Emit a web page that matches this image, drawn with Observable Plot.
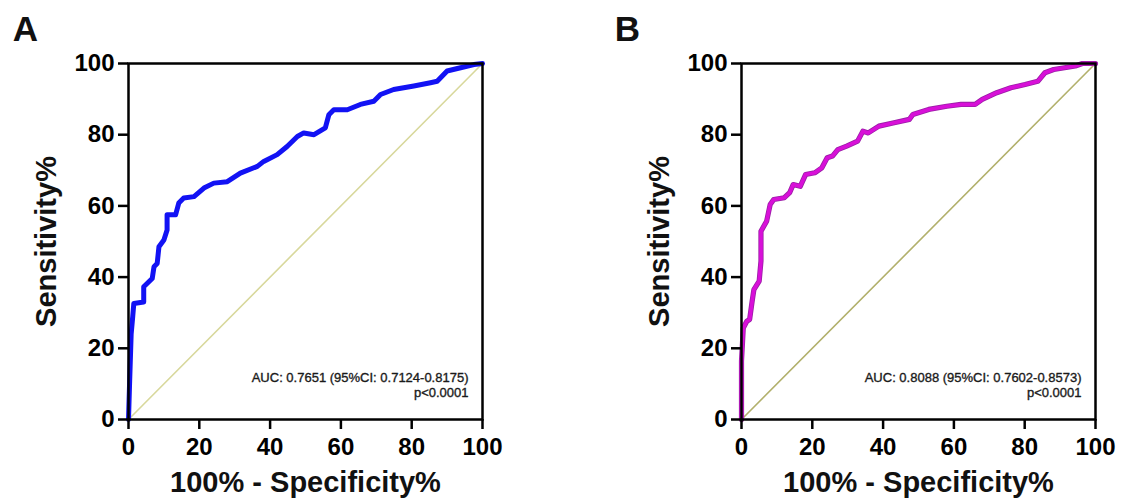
<!DOCTYPE html>
<html>
<head>
<meta charset="utf-8">
<script src="https://cdn.jsdelivr.net/npm/d3@7"></script>
<script src="https://cdn.jsdelivr.net/npm/@observablehq/plot@0.6"></script>
<style>
  html, body { margin: 0; padding: 0; background: #ffffff; }
  #wrap { display: flex; width: 1122px; height: 503px; overflow: hidden; }
  #wrap svg { display: block; }
</style>
</head>
<body>
<div id="wrap"></div>
<script>
// ---- data ----
const ticks = [0, 20, 40, 60, 80, 100];
const diagX = [0, 100];
const diagY = [0, 100];

// Panel A ROC curve: 100% - Specificity% (x) and Sensitivity% (y)
const fprA = [0, 0.3, 0.75, 1.2, 1.5, 4.3, 4.3, 6.7, 7.2, 8.1, 8.6, 10, 10.9, 10.9, 13.3, 14.2, 15.6, 18.5, 21.3, 24.1, 27.9, 31.6, 36.4, 38.2, 42, 44.8, 47.7, 49.5, 52.4, 55.6, 56.6, 58, 61.8, 65.5, 69.3, 71.2, 74.9, 80.6, 85.3, 87.2, 90, 93.8, 97.6, 100];
const tprA = [0, 10, 24, 29, 32.6, 33, 37.3, 39.6, 42.9, 43.8, 48.5, 50.4, 53.2, 57.5, 57.5, 60.8, 62.2, 62.6, 65, 66.4, 66.8, 69.2, 71.1, 72.5, 74.4, 76.7, 79.5, 80.5, 80, 81.9, 85.6, 87, 87, 88.5, 89.4, 91.3, 92.7, 93.7, 94.6, 95, 97.9, 98.8, 99.7, 100];

// Panel B ROC curve
const fprB = [0, 0, 0.5, 1.5, 2.3, 3, 3.5, 5, 5.5, 5.5, 7.1, 8.1, 9.1, 12.1, 13.6, 14.6, 16.6, 18.1, 20.7, 22.7, 24.2, 25.7, 27.2, 29.7, 32.8, 34.3, 35.8, 38.8, 42.8, 47.4, 48.4, 52.9, 58, 62, 66, 68, 72.1, 76.1, 80.1, 83.7, 85.7, 88.2, 94.3, 96.3, 100];
const tprB = [0, 16.4, 25.7, 27.6, 28.1, 33.2, 36.5, 38.9, 44.5, 52.9, 55.7, 60.4, 61.8, 62.3, 63.7, 66, 65.5, 68.8, 69.3, 70.7, 73.5, 74, 75.8, 76.8, 78.2, 81, 80.5, 82.4, 83.3, 84.3, 85.7, 87.1, 88, 88.5, 88.5, 89.9, 91.8, 93.2, 94.1, 95, 97.4, 98.3, 99.3, 100, 100];

const letters = ["A", "B"];
const aucLines = [
  ["AUC: 0.7651 (95%CI: 0.7124-0.8175)", "p<0.0001"],
  ["AUC: 0.8088 (95%CI: 0.7602-0.8573)", "p<0.0001"]
];
const xTitle = "100% - Specificity%";
const yTitle = "Sensitivity%";

const FONT = "'Liberation Sans', Arial, Helvetica, sans-serif";

function panel({fpr, tpr, curveColor, outlineColor, diagColor, letter, lines, ml, mr, letterDx}) {
  const pts = fpr.map((x, i) => ({x, y: tpr[i]}));
  const diag = diagX.map((x, i) => ({x, y: diagY[i]}));
  const marks = [
    Plot.line(diag, {x: "x", y: "y", stroke: diagColor, strokeWidth: 1.6})
  ];
  if (outlineColor) {
    marks.push(Plot.line(pts, {x: "x", y: "y", stroke: outlineColor, strokeWidth: 5.2}));
    marks.push(Plot.line(pts, {x: "x", y: "y", stroke: curveColor, strokeWidth: 3.6}));
  } else {
    marks.push(Plot.line(pts, {x: "x", y: "y", stroke: curveColor, strokeWidth: 5}));
  }
  marks.push(
    Plot.frame({stroke: "#000", strokeWidth: 2.5}),
    Plot.axisX({ticks, tickSize: 10, tickPadding: 8, fontSize: 24, fontWeight: "bold", strokeWidth: 2.5, label: null, tickFormat: d => String(d)}),
    Plot.axisY({ticks, tickSize: 10, tickPadding: 4, fontSize: 24, fontWeight: "bold", strokeWidth: 2.5, label: null, tickFormat: d => String(d)}),
    Plot.text([yTitle], {frameAnchor: "left", rotate: -90, dx: -82, fontSize: 29, fontWeight: "bold", textAnchor: "middle", lineAnchor: "middle", fill: "#111"}),
    Plot.text([xTitle], {frameAnchor: "bottom", dy: 63, fontSize: 29, fontWeight: "bold", textAnchor: "middle", lineAnchor: "middle", fill: "#111"}),
    Plot.text([letter], {frameAnchor: "top-left", dx: letterDx, dy: -34, fontSize: 35, fontWeight: "bold", textAnchor: "middle", lineAnchor: "middle", fill: "#111"}),
    Plot.text([lines[0]], {frameAnchor: "bottom-right", dx: -14, dy: -42, fontSize: 13, textAnchor: "end", lineAnchor: "middle", fill: "#1a1a1a", stroke: "#1a1a1a", strokeWidth: 0.35}),
    Plot.text([lines[1]], {frameAnchor: "bottom-right", dx: -14, dy: -27, fontSize: 13, textAnchor: "end", lineAnchor: "middle", fill: "#1a1a1a", stroke: "#1a1a1a", strokeWidth: 0.35})
  );
  return Plot.plot({
    width: 561,
    height: 503,
    marginLeft: ml,
    marginRight: mr,
    marginTop: 63,
    marginBottom: 84,
    x: {domain: [0, 100]},
    y: {domain: [0, 100]},
    style: {fontFamily: FONT, background: "#ffffff", color: "#000", overflow: "visible"},
    marks
  });
}

const wrap = document.getElementById("wrap");
wrap.appendChild(panel({
  fpr: fprA, tpr: tprA, curveColor: "#1212f4", outlineColor: null, diagColor: "#d8d89c",
  letter: letters[0], lines: aucLines[0], ml: 128, mr: 79, letterDx: -103
}));
wrap.appendChild(panel({
  fpr: fprB, tpr: tprB, curveColor: "#d810d8", outlineColor: "#9a1ea6", diagColor: "#b2b06c",
  letter: letters[1], lines: aucLines[1], ml: 180, mr: 27, letterDx: -114
}));
</script>
</body>
</html>
